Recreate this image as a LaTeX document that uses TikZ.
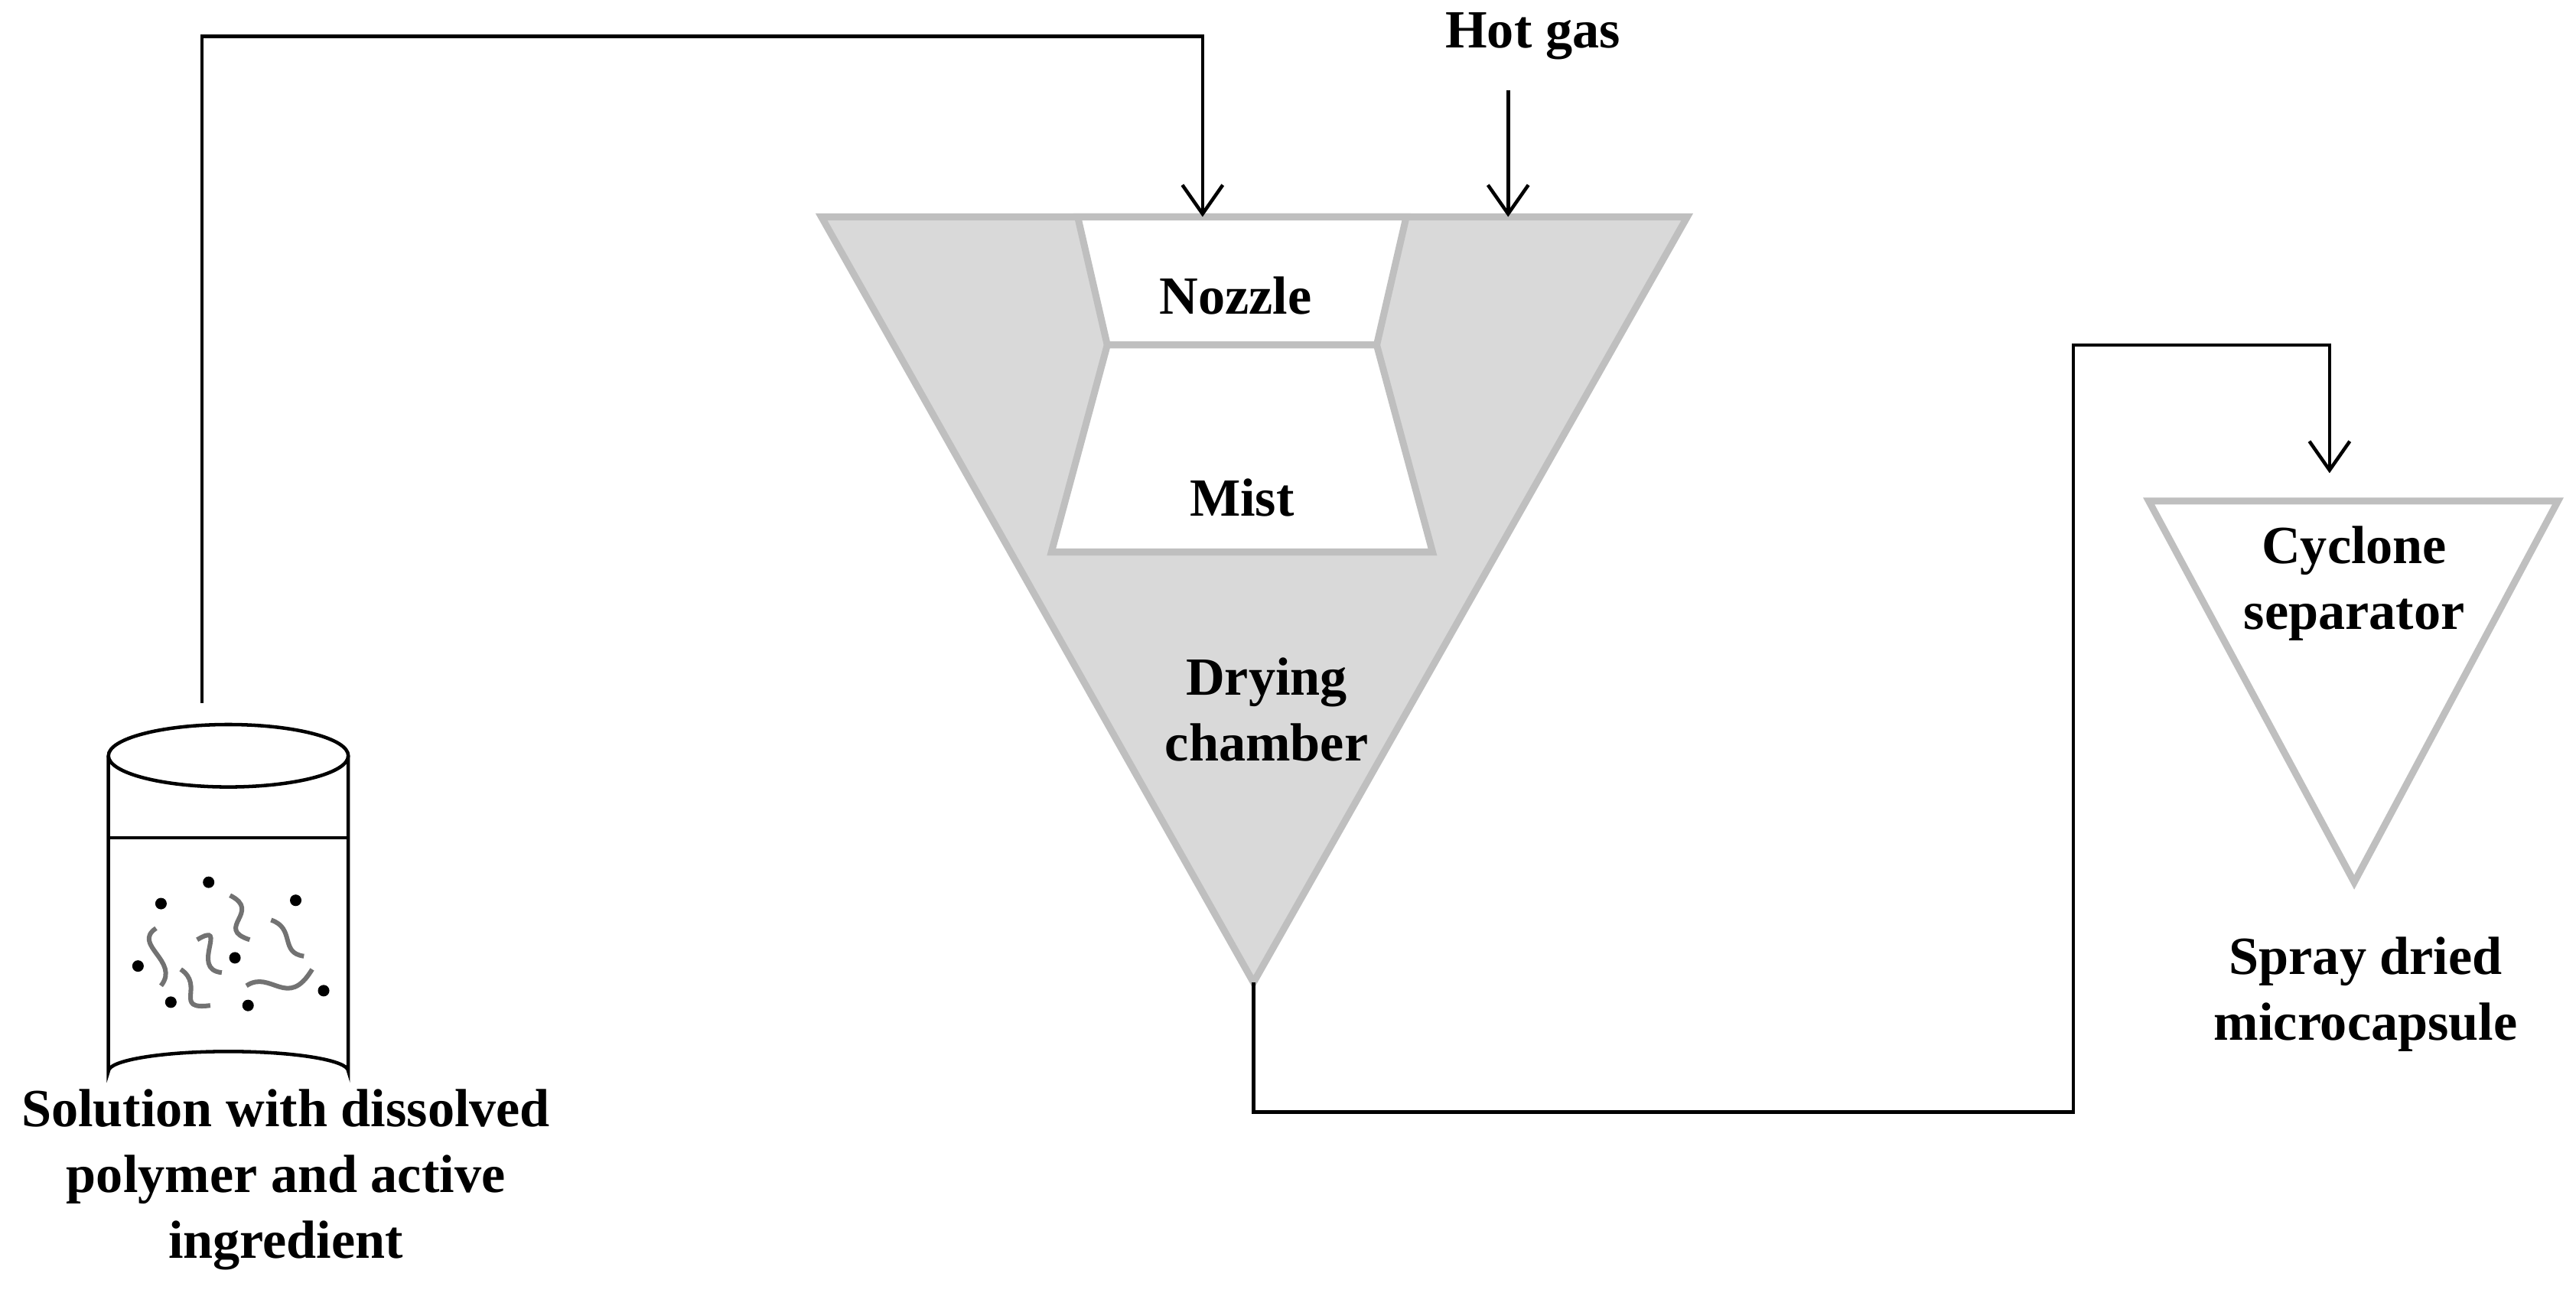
\documentclass[tikz,border=0pt]{standalone}
\usepackage{fontspec}
\setmainfont{Liberation Serif}
\usetikzlibrary{arrows.meta}
\definecolor{rimgray}{HTML}{BFBFBF}
\definecolor{fillgray}{HTML}{D9D9D9}
\begin{document}
\begin{tikzpicture}[x=0.01cm, y=-0.01cm,
    lbl/.style={font=\fontsize{9.3}{11.4}\selectfont\bfseries, align=center},
    part/.style={draw=rimgray, line width=1.2pt},
    pipe/.style={draw=black, line width=0.6pt},
    feed/.style={pipe, -{Straight Barb[length=5pt, width=7pt]}}]
    \useasboundingbox (0,0) rectangle (1568,787);

    % drying chamber
    \draw [part, fill=fillgray] (500,132) -- (1027,132) -- (763,598) -- cycle;
    \draw [part, fill=white] (656,132) -- (856,132) -- (838,210) -- (674,210) -- cycle;
    \draw [part, fill=white] (674,210) -- (838,210) -- (872,336) -- (640,336) -- cycle;
    \node [lbl] (nozzle) at (752,180) {Nozzle};
    \node [lbl] (mist) at (756,303) {Mist};
    \node [lbl] (chamber) at (771,432) {Drying\\chamber};
    \coordinate (inlet) at (732,132);
    \coordinate (gasin) at (918,132);
    \coordinate (apex) at (763,598);

    % hot gas
    \node [lbl] (gas) at (933,22) {Hot gas};
    \coordinate (gastop) at (918,55);
    \draw [feed] (gastop) -- (gasin);

    % cyclone
    \draw [part, fill=white] (1308,305) -- (1557,305) -- (1433,537) -- cycle;
    \node [lbl] (cyclone) at (1433,355) {Cyclone\\separator};
    \coordinate (cycin) at (1418,288);
    \node [lbl] (product) at (1440,605) {Spray dried\\microcapsule};

    % beaker
    \draw [line width=0.6pt] (66,460) -- (66,652) arc[start angle=180, end angle=360, x radius=73, y radius=12] -- (212,460);
    \draw [line width=0.6pt] (139,460) ellipse[x radius=73, y radius=19];
    \draw [line width=0.6pt] (66,510) -- (212,510);
    \coordinate (beaker) at (123,428);
    \foreach \px/\py in {98/550, 127/537, 180/548, 84/588, 104/610, 151/612, 197/603, 143/583} {
        \fill (\px,\py) circle[radius=3.5];
    }
    \draw [rimgray!60!black, line width=0.8pt]
        (95,565) .. controls (80,575) and (110,585) .. (98,600)
        (120,572) .. controls (140,560) and (115,590) .. (135,592)
        (110,590) .. controls (125,600) and (105,615) .. (128,612)
        (140,545) .. controls (160,555) and (130,565) .. (152,572)
        (150,600) .. controls (165,590) and (175,615) .. (190,590)
        (165,560) .. controls (180,565) and (170,580) .. (185,582);
    \node [lbl] (solution) at (174,718) {Solution with dissolved\\polymer and active\\ingredient};

    % connecting lines
    \draw [feed] (beaker) |- (300,22) -| (inlet);
    \draw [feed] (apex) |- (1262,677) |- (1350,210) -| (cycin);
\end{tikzpicture}
\end{document}
